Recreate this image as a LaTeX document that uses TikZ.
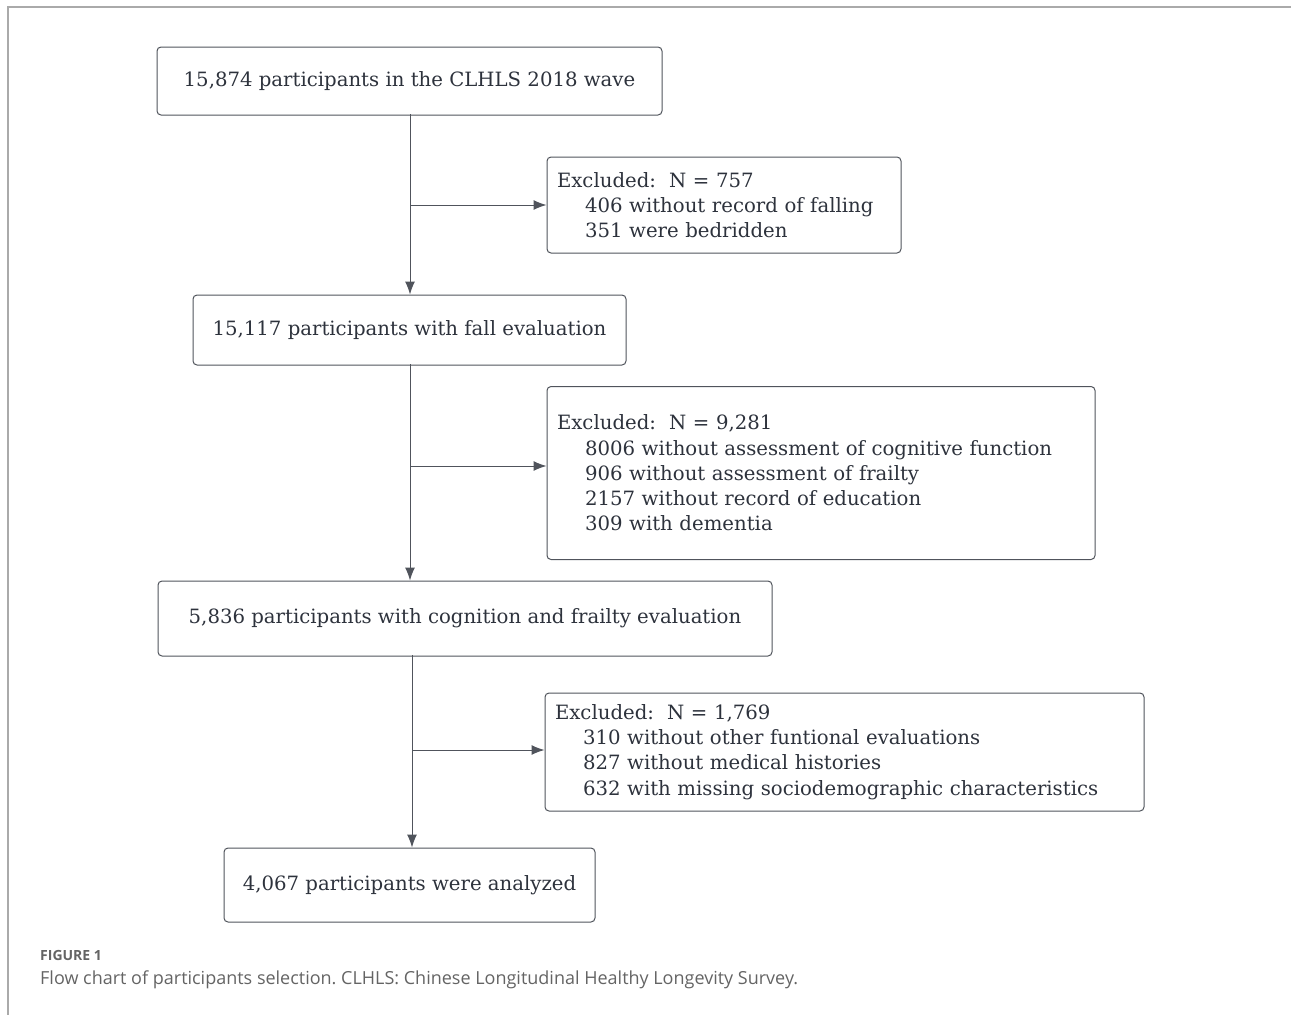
\documentclass[tikz,border=0pt]{standalone}
\usepackage{fontspec}
\setmainfont{DejaVu Serif}
\newfontfamily\capfont{Open Sans}
\usetikzlibrary{positioning,arrows.meta}
\definecolor{flowline}{RGB}{80,84,92}
\definecolor{flowtext}{RGB}{45,50,60}
\definecolor{framegray}{RGB}{170,170,170}
\definecolor{capgray}{RGB}{100,100,100}
\frenchspacing
\begin{document}
\begin{tikzpicture}[x=1pt, y=-1pt, every node/.style={font=\fontsize{19.7}{25.3}\selectfont, text=flowtext}]
  \tikzset{
    stage/.style={draw=flowline, line width=1pt, rounded corners=4pt, inner sep=0pt},
    excl/.style={stage, align=left, inner xsep=10pt},
    flow/.style={draw=flowline, line width=1pt, -{Latex[length=13pt, width=10pt]}},
    link/.style={draw=flowline, line width=1pt}
  }
  \useasboundingbox (0,0) rectangle (1291,1015);
  \draw[framegray, line width=1.2pt] (1291,7) -- (8,7) -- (8,1015);

  \node[stage, minimum width=505pt, minimum height=68pt] (start) at (409.5,81) {15,874 participants in the CLHLS 2018 wave};
  \node[excl, minimum height=96pt, text width=334pt] (excl1) at (724,205) {Excluded:~~N = 757\\\hspace*{28pt}406 without record of falling\\\hspace*{28pt}351 were bedridden};
  \node[stage, minimum width=433pt, minimum height=70pt] (fall) at (409.5,330) {15,117 participants with fall evaluation};
  \node[excl, minimum height=173pt, text width=528pt] (excl2) at (821,473) {Excluded:~~N = 9,281\\\hspace*{28pt}8006 without assessment of cognitive function\\\hspace*{28pt}906 without assessment of frailty\\\hspace*{28pt}2157 without record of education\\\hspace*{28pt}309 with dementia};
  \node[stage, minimum width=614pt, minimum height=75pt] (cogfr) at (465,618.5) {5,836 participants with cognition and frailty evaluation};
  \node[excl, minimum height=118pt, text width=579pt] (excl3) at (844.5,752) {Excluded:~~N = 1,769\\\hspace*{28pt}310 without other funtional evaluations\\\hspace*{28pt}827 without medical histories\\\hspace*{28pt}632 with missing sociodemographic characteristics};
  \node[stage, minimum width=371pt, minimum height=74pt] (final) at (409.5,885) {4,067 participants were analyzed};

  \coordinate (top1) at (410,114);
  \coordinate (top2) at (410,364);
  \coordinate (top3) at (412,655);
  \coordinate (br1) at (410,205);
  \coordinate (br2) at (410,466);
  \coordinate (br3) at (412,750);

  \draw[link] (top1) -- (br1);
  \draw[flow] (br1) -- (top1 |- fall.north);
  \draw[flow] (br1) -- (br1 -| excl1.west);
  \draw[link] (top2) -- (br2);
  \draw[flow] (br2) -- (top2 |- cogfr.north);
  \draw[flow] (br2) -- (br2 -| excl2.west);
  \draw[link] (top3) -- (br3);
  \draw[flow] (br3) -- (top3 |- final.north);
  \draw[flow] (br3) -- (br3 -| excl3.west);

  \node[anchor=base west, inner sep=0pt, font=\capfont\bfseries\fontsize{14}{16}\selectfont, text=capgray] (figlabel) at (40,960) {FIGURE 1};
  \node[anchor=base west, inner sep=0pt, font=\capfont\fontsize{18}{22}\selectfont, text=capgray] (figcap) at (40,984) {Flow chart of participants selection. CLHLS: Chinese Longitudinal Healthy Longevity Survey.};
\end{tikzpicture}
\end{document}
